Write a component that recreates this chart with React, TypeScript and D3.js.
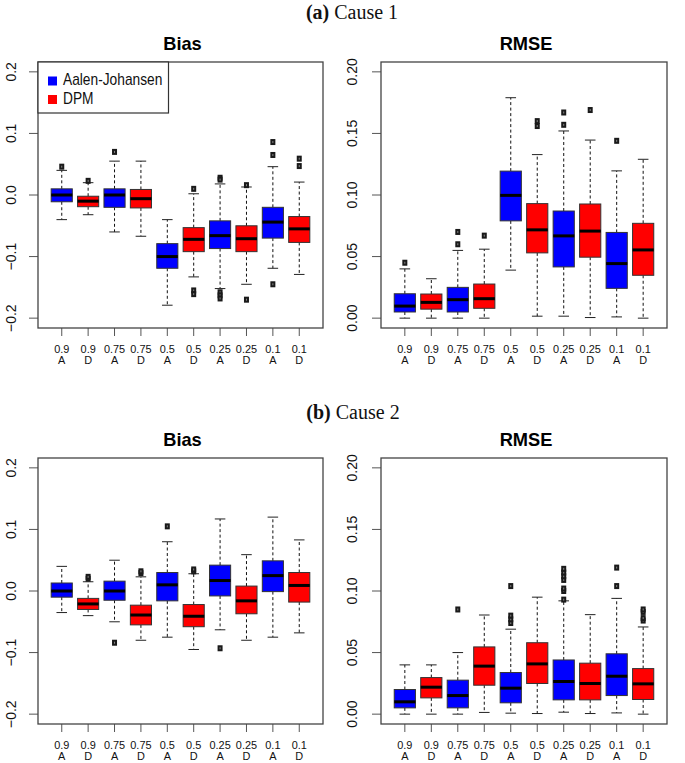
import React from "react";
import * as d3 from "d3";

const probLabels = ["0.9", "0.9", "0.75", "0.75", "0.5", "0.5", "0.25", "0.25", "0.1", "0.1"];
const methodLabels = ["A", "D", "A", "D", "A", "D", "A", "D", "A", "D"];
const methodNames = ["Aalen-Johansen", "DPM"];

// Cause 1 - Bias
const c1BiasLo = [-0.040, -0.032, -0.060, -0.067, -0.179, -0.133, -0.152, -0.145, -0.119, -0.129];
const c1BiasQ1 = [-0.011, -0.019, -0.020, -0.021, -0.119, -0.092, -0.087, -0.092, -0.070, -0.077];
const c1BiasMed = [0.000, -0.010, 0.000, -0.006, -0.100, -0.072, -0.066, -0.071, -0.044, -0.055];
const c1BiasQ3 = [0.010, -0.002, 0.010, 0.009, -0.079, -0.053, -0.042, -0.050, -0.020, -0.035];
const c1BiasHi = [0.040, 0.020, 0.055, 0.055, -0.040, 0.002, 0.018, 0.013, 0.046, 0.021];
const c1BiasOut = [[0.046], [0.023], [0.070], [], [], [0.010, -0.155, -0.161], [0.028, 0.025, -0.158, -0.163, -0.168], [0.016, -0.170], [0.065, 0.086, -0.145], [0.047, 0.059]];

// Cause 1 - RMSE
const c1RmseLo = [0, 0, 0, 0, 0.039, 0.0016, 0.0016, 0.0005, 0.001, 0];
const c1RmseQ1 = [0.005, 0.0073, 0.005, 0.008, 0.079, 0.053, 0.0416, 0.0495, 0.0242, 0.0348];
const c1RmseMed = [0.0098, 0.0128, 0.015, 0.0158, 0.0997, 0.0717, 0.0668, 0.0707, 0.0443, 0.0554];
const c1RmseQ3 = [0.0198, 0.0196, 0.025, 0.0277, 0.1194, 0.093, 0.087, 0.0927, 0.0696, 0.077];
const c1RmseHi = [0.040, 0.032, 0.055, 0.056, 0.179, 0.1328, 0.152, 0.1446, 0.1196, 0.129];
const c1RmseOut = [[0.045], [], [0.060, 0.070], [0.067], [], [0.156, 0.160], [0.157, 0.167], [0.169], [0.144], []];

// Cause 2 - Bias
const c2BiasLo = [-0.035, -0.040, -0.050, -0.080, -0.075, -0.095, -0.063, -0.080, -0.075, -0.068];
const c2BiasQ1 = [-0.010, -0.030, -0.015, -0.055, -0.016, -0.058, -0.008, -0.037, -0.001, -0.018];
const c2BiasMed = [0.000, -0.021, 0.000, -0.039, 0.010, -0.041, 0.017, -0.016, 0.025, 0.009];
const c2BiasQ3 = [0.013, -0.012, 0.016, -0.023, 0.030, -0.022, 0.042, 0.008, 0.049, 0.030];
const c2BiasHi = [0.040, 0.015, 0.050, 0.023, 0.080, 0.028, 0.117, 0.059, 0.120, 0.083];
const c2BiasOut = [[], [0.020, 0.023], [-0.084], [0.029, 0.032], [0.105], [0.032, 0.035], [-0.093], [], [], []];

// Cause 2 - RMSE
const c2RmseLo = [0, 0, 0, 0.0014, 0.0008, 0.0005, 0.0016, 0.0005, 0.001, 0];
const c2RmseQ1 = [0.0051, 0.0132, 0.0051, 0.0235, 0.0092, 0.0249, 0.0116, 0.0116, 0.0151, 0.0119];
const c2RmseMed = [0.010, 0.0219, 0.0151, 0.039, 0.0211, 0.0408, 0.0265, 0.0249, 0.0308, 0.0246];
const c2RmseQ3 = [0.020, 0.0297, 0.0276, 0.0546, 0.0338, 0.058, 0.044, 0.0414, 0.049, 0.037];
const c2RmseHi = [0.040, 0.040, 0.050, 0.0805, 0.069, 0.095, 0.092, 0.0808, 0.094, 0.0708];
const c2RmseOut = [[], [], [0.085], [], [0.074, 0.077, 0.080, 0.104], [], [0.093, 0.100, 0.102, 0.109, 0.112, 0.115, 0.118], [], [0.104, 0.119], [0.076, 0.078, 0.083, 0.085]];

const biasTicks = [-0.2, -0.1, 0.0, 0.1, 0.2];
const rmseTicks = [0.0, 0.05, 0.1, 0.15, 0.2];

const SANS = "'Liberation Sans', Arial, Helvetica, sans-serif";
const SERIF = "'Liberation Serif', 'Times New Roman', serif";
const BLUE = "#0000FF";
const RED = "#FF0000";

type PanelProps = {
  x0: number; x1: number; y0: number; y1: number;
  domain: [number, number];
  ticks: number[];
  fmt: (v: number) => string;
  title: string;
  lo: number[]; q1: number[]; med: number[]; q3: number[]; hi: number[]; out: number[][];
  legend?: boolean;
  labelX: number;
};

function Panel(p: PanelProps) {
  const n = probLabels.length;
  const x = d3.scaleLinear().domain([0.1, n + 0.9]).range([p.x0, p.x1]);
  const y = d3.scaleLinear().domain(p.domain).range([p.y1, p.y0]);
  const unit = x(2) - x(1);
  const bw = unit * 0.8;
  const cw = bw * 0.5;
  const cx = (p.x0 + p.x1) / 2;
  return (
    <g>
      <text transform={`translate(${cx + 2},${p.y0 - 12}) scale(0.96,1)`} textAnchor="middle"
        fontFamily={SANS} fontWeight="bold" fontSize={19}>{p.title}</text>
      {d3.range(n).map((i) => {
        const xc = x(i + 1);
        const fill = i % 2 === 0 ? BLUE : RED;
        return (
          <g key={i}>
            <line x1={xc} x2={xc} y1={y(p.q3[i])} y2={y(p.hi[i])} stroke="#111" strokeDasharray="3,2.5" strokeWidth={1} />
            <line x1={xc} x2={xc} y1={y(p.q1[i])} y2={y(p.lo[i])} stroke="#111" strokeDasharray="3,2.5" strokeWidth={1} />
            <line x1={xc - cw / 2} x2={xc + cw / 2} y1={y(p.hi[i])} y2={y(p.hi[i])} stroke="#222" strokeWidth={1} />
            <line x1={xc - cw / 2} x2={xc + cw / 2} y1={y(p.lo[i])} y2={y(p.lo[i])} stroke="#222" strokeWidth={1} />
            <rect x={xc - bw / 2} y={y(p.q3[i])} width={bw} height={y(p.q1[i]) - y(p.q3[i])}
              fill={fill} stroke="#333" strokeWidth={1} />
            <line x1={xc - bw / 2} x2={xc + bw / 2} y1={y(p.med[i])} y2={y(p.med[i])} stroke="#000" strokeWidth={3} />
            {p.out[i].map((v, j) => (
              <g key={j}>
                <rect x={xc - 2.5} y={y(v) - 3} width={5} height={6} fill="#1a1a1a" />
                <rect x={xc - 0.5} y={y(v) - 1} width={1} height={2} fill="#888" />
              </g>
            ))}
            <line x1={xc} x2={xc} y1={p.y1} y2={p.y1 + 8} stroke="#555" strokeWidth={1} />
            <text transform={`translate(${xc},${p.y1 + 24.5}) scale(1.04,1)`} textAnchor="middle"
              fontFamily={SANS} fontSize={10.5} fill="#111">
              <tspan x={0} y={0}>{probLabels[i]}</tspan>
              <tspan x={0} y={11.8}>{methodLabels[i]}</tspan>
            </text>
          </g>
        );
      })}
      {p.ticks.map((t, i) => (
        <g key={i}>
          <line x1={p.x0 - 9} x2={p.x0} y1={y(t)} y2={y(t)} stroke="#555" strokeWidth={1} />
          <text transform={`translate(${p.labelX},${y(t)}) rotate(-90) scale(0.93,1)`} textAnchor="middle"
            fontFamily={SANS} fontSize={15} fill="#111">{p.fmt(t)}</text>
        </g>
      ))}
      <rect x={p.x0} y={p.y0} width={p.x1 - p.x0} height={p.y1 - p.y0} fill="none" stroke="#444" strokeWidth={1.3} />
      {p.legend && (
        <g>
          <rect x={p.x0} y={p.y0} width={130.5} height={51} fill="white" stroke="#333" strokeWidth={1.2} />
          {methodNames.map((m, i) => (
            <g key={m}>
              <rect x={p.x0 + 10} y={p.y0 + 14.5 + i * 18.5} width={9} height={9} fill={i === 0 ? BLUE : RED} />
              <text transform={`translate(${p.x0 + 25},${p.y0 + 22.5 + i * 19.5}) scale(0.86,1)`}
                fontFamily={SANS} fontSize={16} fill="#111">{m}</text>
            </g>
          ))}
        </g>
      )}
    </g>
  );
}

const fmtBias = (v: number) => (v < 0 ? "\u2212" : "") + d3.format(".1f")(Math.abs(v));
const fmtRmse = (v: number) => d3.format(".2f")(v);

export default function App() {
  const L = { x0: 38, x1: 323, labelX: 15.5 };
  const R = { x0: 381, x1: 667, labelX: 356.5 };
  const T = { y0: 62, y1: 328 };
  const B = { y0: 458, y1: 724 };
  const biasDomain: [number, number] = [-0.216, 0.216];
  const rmseDomain: [number, number] = [-0.008, 0.208];
  return (
    <svg width={685} height={763} style={{ position: "absolute", left: 0, top: 0, background: "white" }}>
      <rect width={685} height={763} fill="white" />
      <text x={352} y={19} textAnchor="middle" fontFamily={SERIF} fontSize={20} fill="#111">
        <tspan fontWeight="bold">(a)</tspan> Cause 1
      </text>
      <text x={353} y={419} textAnchor="middle" fontFamily={SERIF} fontSize={20} fill="#111">
        <tspan fontWeight="bold">(b)</tspan> Cause 2
      </text>
      <Panel {...L} {...T} domain={biasDomain} ticks={biasTicks} fmt={fmtBias} title="Bias"
        lo={c1BiasLo} q1={c1BiasQ1} med={c1BiasMed} q3={c1BiasQ3} hi={c1BiasHi} out={c1BiasOut} legend />
      <Panel {...R} {...T} domain={rmseDomain} ticks={rmseTicks} fmt={fmtRmse} title="RMSE"
        lo={c1RmseLo} q1={c1RmseQ1} med={c1RmseMed} q3={c1RmseQ3} hi={c1RmseHi} out={c1RmseOut} />
      <Panel {...L} {...B} domain={biasDomain} ticks={biasTicks} fmt={fmtBias} title="Bias"
        lo={c2BiasLo} q1={c2BiasQ1} med={c2BiasMed} q3={c2BiasQ3} hi={c2BiasHi} out={c2BiasOut} />
      <Panel {...R} {...B} domain={rmseDomain} ticks={rmseTicks} fmt={fmtRmse} title="RMSE"
        lo={c2RmseLo} q1={c2RmseQ1} med={c2RmseMed} q3={c2RmseQ3} hi={c2RmseHi} out={c2RmseOut} />
    </svg>
  );
}
